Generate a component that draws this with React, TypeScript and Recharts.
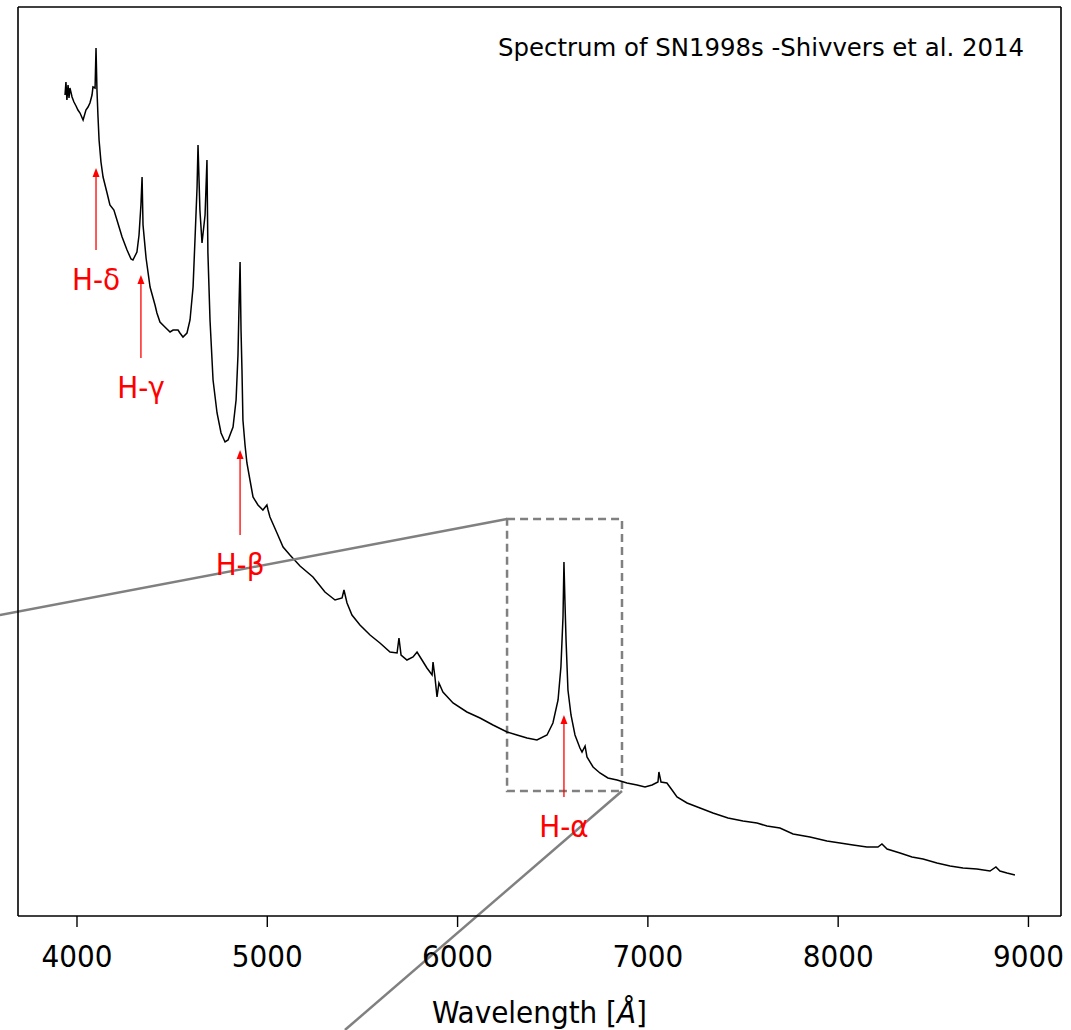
import {
  LineChart,
  Line,
  XAxis,
  YAxis,
  ReferenceLine,
  ReferenceArea,
} from 'recharts'

// wavelength in Angstrom, flux in arbitrary units
const wavelength = [
  3937, 3942, 3947, 3953, 3958, 3963, 3974, 3984, 3995, 4005, 4016, 4032, 4047, 4058, 4068, 4079,
  4084, 4095, 4100, 4105, 4110, 4116, 4126, 4137, 4158, 4173, 4194, 4210, 4237, 4263, 4284, 4294,
  4315, 4326, 4336, 4342, 4347, 4363, 4384, 4410, 4420, 4436, 4462, 4489, 4505, 4531, 4541, 4557,
  4578, 4594, 4610, 4620, 4631, 4636, 4646, 4657, 4673, 4683, 4688, 4699, 4715, 4736, 4757, 4778,
  4794, 4820, 4836, 4846, 4851, 4857, 4862, 4867, 4872, 4883, 4893, 4909, 4925, 4951, 4977, 4998,
  5004, 5014, 5051, 5083, 5119, 5172, 5240, 5303, 5356, 5393, 5403, 5419, 5445, 5487, 5540, 5592,
  5645, 5682, 5692, 5703, 5734, 5766, 5787, 5813, 5839, 5866, 5871, 5881, 5892, 5902, 5923, 5976,
  6049, 6118, 6186, 6260, 6312, 6365, 6417, 6470, 6501, 6528, 6543, 6554, 6559, 6564, 6570, 6580,
  6596, 6617, 6643, 6654, 6670, 6680, 6712, 6748, 6790, 6838, 6890, 6943, 6985, 7022, 7053, 7058,
  7069, 7100, 7127, 7153, 7206, 7274, 7342, 7421, 7500, 7573, 7626, 7694, 7763, 7852, 7941, 8010,
  8078, 8151, 8209, 8230, 8257, 8325, 8388, 8446, 8519, 8588, 8656, 8729, 8798, 8829, 8850, 8887,
  8929,
]

const flux = [
  8.2, 8.33, 8.15, 8.3, 8.17, 8.27, 8.18, 8.13, 8.09, 8.05, 8.02, 7.95, 8.05, 8.08, 8.12, 8.2,
  8.28, 8.27, 8.67, 8.25, 8.0, 7.75, 7.53, 7.38, 7.22, 7.1, 7.05, 6.95, 6.78, 6.65, 6.56, 6.55,
  6.63, 6.8, 7.1, 7.38, 6.9, 6.57, 6.28, 6.1, 6.02, 5.93, 5.88, 5.83, 5.85, 5.85, 5.82, 5.78,
  5.82, 5.95, 6.28, 6.75, 7.28, 7.7, 7.05, 6.72, 7.0, 7.55, 6.62, 5.95, 5.35, 5.02, 4.82, 4.73,
  4.75, 4.88, 5.15, 5.6, 6.05, 6.53, 5.85, 5.45, 4.95, 4.7, 4.52, 4.35, 4.18, 4.1, 4.05, 4.1,
  4.05, 3.98, 3.82, 3.68, 3.6, 3.49, 3.38, 3.23, 3.15, 3.17, 3.25, 3.12, 3.0, 2.9, 2.8, 2.72,
  2.63, 2.62, 2.77, 2.6, 2.55, 2.58, 2.63, 2.55, 2.47, 2.4, 2.53, 2.38, 2.18, 2.32, 2.23, 2.12,
  2.03, 1.97, 1.9, 1.83, 1.8, 1.77, 1.75, 1.8, 1.92, 2.15, 2.48, 2.98, 3.53, 3.15, 2.75, 2.25,
  2.0, 1.8, 1.67, 1.63, 1.69, 1.58, 1.48, 1.42, 1.37, 1.35, 1.32, 1.3, 1.28, 1.3, 1.33, 1.43,
  1.33, 1.32, 1.25, 1.18, 1.12, 1.07, 1.02, 0.97, 0.94, 0.92, 0.89, 0.87, 0.81, 0.78, 0.74, 0.72,
  0.7, 0.68, 0.68, 0.71, 0.66, 0.62, 0.58, 0.56, 0.52, 0.49, 0.47, 0.46, 0.44, 0.48, 0.44, 0.42,
  0.4,
]

const xTicks = [4000, 5000, 6000, 7000, 8000, 9000]

// Balmer line markers: label, wavelength, arrow tail flux, arrow head flux
const lineNames = ['H-δ', 'H-γ', 'H-β', 'H-α']
const lineWave = [4100, 4336, 4857, 6559]
const lineTail = [6.65, 5.57, 3.8, 1.18]
const lineHead = [7.47, 6.4, 4.65, 2.0]

// zoom box around H-alpha and its guide lines
const zoomWave = [6260, 6864]
const zoomFlux = [1.24, 3.96]
const guideLeft = { wave: 3595, flux: 3.0 }
const guideDown = { wave: 5408, flux: -1.15 }

const data = wavelength.map((w, i) => ({ w, f: flux[i] }))

const condensed = '"DejaVu Sans Condensed", "DejaVu Sans", sans-serif'

const Tick = (props: any) => {
  const { x, y, payload } = props
  return (
    <text x={x} y={y + 38} textAnchor="middle" fontSize={31} fontFamily={condensed} fill="#000">
      {payload.value}
    </text>
  )
}

const makeArrow = (label: string) => (p: any) => {
  const { x1, y1, x2, y2 } = p
  if (x1 == null || y1 == null) return <g />
  return (
    <g>
      <line x1={x1} y1={y1} x2={x2} y2={y2 + 8} stroke="#ff0000" strokeWidth={1.3} />
      <polygon points={`${x2},${y2} ${x2 - 3.5},${y2 + 9} ${x2 + 3.5},${y2 + 9}`} fill="#ff0000" />
      <text x={x1} y={y1 + 40} textAnchor="middle" fontSize={31} fontFamily={condensed} fill="#ff0000">
        {label}
      </text>
    </g>
  )
}

const XLabel = (props: any) => {
  const { viewBox } = props
  const cx = viewBox.x + viewBox.width / 2
  return (
    <text x={cx} y={1023} textAnchor="middle" fontSize={31} fontFamily={condensed} fill="#000">
      Wavelength [<tspan fontStyle="italic">Å</tspan>]
    </text>
  )
}

const frameLine = { stroke: '#000', strokeWidth: 1.6 }

export default function App() {
  return (
    <div style={{ position: 'absolute', left: 0, top: 0, width: 1071, height: 1030, background: '#fff' }}>
      <LineChart
        width={1071}
        height={1030}
        data={data}
        margin={{ top: 6, right: 9, bottom: 30, left: 17 }}
      >
        <XAxis
          dataKey="w"
          type="number"
          domain={[3690, 9171]}
          ticks={xTicks}
          allowDataOverflow
          height={84}
          tickSize={11}
          stroke="#000"
          axisLine={frameLine}
          tickLine={{ stroke: '#000', strokeWidth: 1.4 }}
          tick={<Tick />}
          label={<XLabel />}
        />
        <XAxis
          xAxisId="top"
          orientation="top"
          dataKey="w"
          type="number"
          domain={[3690, 9171]}
          allowDataOverflow
          height={1}
          tick={false}
          tickLine={false}
          axisLine={frameLine}
        />
        <YAxis
          type="number"
          domain={[-0.01, 9.08]}
          allowDataOverflow
          width={1}
          tick={false}
          tickLine={false}
          axisLine={frameLine}
        />
        <YAxis
          yAxisId="right"
          orientation="right"
          type="number"
          domain={[-0.01, 9.08]}
          allowDataOverflow
          width={1}
          tick={false}
          tickLine={false}
          axisLine={frameLine}
        />
        <Line
          dataKey="f"
          type="linear"
          stroke="#000"
          strokeWidth={1.5}
          dot={false}
          activeDot={false}
          isAnimationActive={false}
        />
        <ReferenceArea
          x1={zoomWave[0]}
          x2={zoomWave[1]}
          y1={zoomFlux[0]}
          y2={zoomFlux[1]}
          fill="none"
          fillOpacity={0}
          stroke="#808080"
          strokeWidth={2.5}
          strokeDasharray="8 5"
          ifOverflow="visible"
        />
        <ReferenceLine
          segment={[
            { x: zoomWave[0], y: zoomFlux[1] },
            { x: guideLeft.wave, y: guideLeft.flux },
          ]}
          stroke="#808080"
          strokeWidth={2.5}
          ifOverflow="visible"
        />
        <ReferenceLine
          segment={[
            { x: zoomWave[1], y: zoomFlux[0] },
            { x: guideDown.wave, y: guideDown.flux },
          ]}
          stroke="#808080"
          strokeWidth={2.5}
          ifOverflow="visible"
        />
        {lineNames.map((name, i) => (
          <ReferenceLine
            key={name}
            segment={[
              { x: lineWave[i], y: lineTail[i] },
              { x: lineWave[i], y: lineHead[i] },
            ]}
            ifOverflow="visible"
            shape={makeArrow(name)}
          />
        ))}
      </LineChart>
      <div
        style={{
          position: 'absolute',
          right: 1071 - 1024,
          top: 34,
          fontFamily: '"DejaVu Sans", sans-serif',
          fontSize: 24.4,
          lineHeight: '28px',
          whiteSpace: 'nowrap',
          color: '#000',
        }}
      >
        Spectrum of SN1998s -Shivvers et al. 2014
      </div>
    </div>
  )
}
